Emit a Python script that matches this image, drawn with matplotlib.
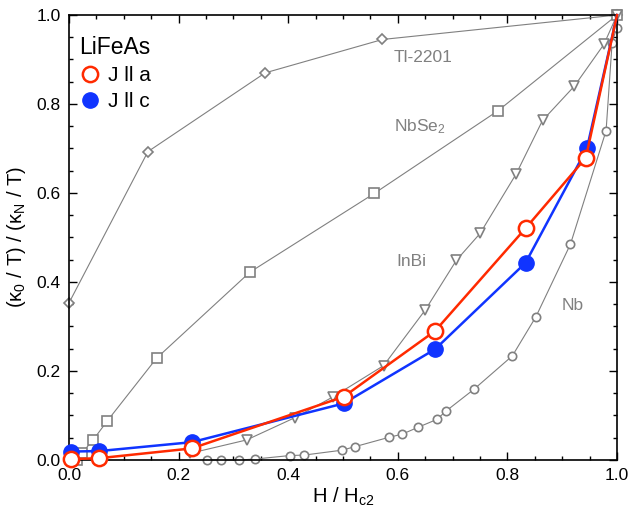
import numpy as np
import matplotlib
matplotlib.use('Agg')
import matplotlib.pyplot as plt
from matplotlib.ticker import MultipleLocator

plt.rcParams['font.family'] = ['Liberation Sans', 'DejaVu Sans']
plt.rcParams['mathtext.fontset'] = 'custom'
plt.rcParams['mathtext.rm'] = 'Liberation Sans'
plt.rcParams['mathtext.it'] = 'Liberation Sans:italic'

# reference superconductors (grey)
tl_x = [0.0, 0.144, 0.358, 0.572, 1.0]
tl_y = [0.353, 0.693, 0.870, 0.945, 1.0]

nbse2_x = [0.015, 0.023, 0.044, 0.070, 0.160, 0.330, 0.557, 0.783, 1.0]
nbse2_y = [0.0, 0.015, 0.045, 0.088, 0.229, 0.422, 0.599, 0.785, 1.0]

inbi_x = [0.221, 0.324, 0.412, 0.482, 0.574, 0.650, 0.707, 0.750, 0.816, 0.864, 0.922, 0.976, 1.0]
inbi_y = [0.015, 0.045, 0.095, 0.142, 0.212, 0.337, 0.449, 0.509, 0.643, 0.763, 0.840, 0.934, 1.0]

nb_x = [0.251, 0.277, 0.311, 0.339, 0.403, 0.429, 0.498, 0.522, 0.584, 0.608, 0.636, 0.671,
        0.688, 0.739, 0.809, 0.852, 0.915, 0.980, 0.991, 0.999]
nb_y = [0.0, 0.0, 0.0, 0.002, 0.010, 0.011, 0.022, 0.030, 0.051, 0.058, 0.073, 0.091,
        0.110, 0.159, 0.234, 0.322, 0.485, 0.740, 0.938, 0.970]

# LiFeAs (last point is the normal state, drawn as line end only)
h_a = [0.004, 0.055, 0.224, 0.501, 0.668, 0.834, 0.943, 1.0]
k_a = [0.002, 0.004, 0.026, 0.142, 0.290, 0.522, 0.679, 1.0]
h_c = [0.004, 0.055, 0.224, 0.501, 0.668, 0.833, 0.945, 1.0]
k_c = [0.019, 0.020, 0.040, 0.127, 0.249, 0.443, 0.700, 1.0]

grey = '#808080'
red = '#ff2a00'
blue = '#1034ff'

fig = plt.figure(figsize=(6.29, 5.12), dpi=100)
ax = fig.add_axes([0.1097, 0.1016, 0.981 - 0.1097, 0.9707 - 0.1016])

kw = dict(color=grey, lw=0.8, mfc='white', mec=grey, mew=1.2, clip_on=False)
ax.plot(tl_x, tl_y, marker='D', ms=5, **kw)
ax.plot(nbse2_x, nbse2_y, marker='s', ms=7, **kw)
ax.plot(inbi_x, inbi_y, marker='v', ms=7.5, **kw)
ax.plot(nb_x, nb_y, marker='o', ms=6, **kw)

n = len(h_c) - 1
ax.plot(h_c, k_c, color=blue, lw=1.8, marker='o', ms=11, mfc=blue, mec=blue,
        markevery=list(range(n)), clip_on=False, zorder=5, label='J ll c')
ax.plot(h_a, k_a, color=red, lw=1.8, marker='o', ms=11, mfc='white', mec=red, mew=1.8,
        markevery=list(range(n)), clip_on=False, zorder=6, label='J ll a')

ax.text(0.593, 0.905, 'Tl-2201', color=grey, fontsize=12.5, va='center')
ax.text(0.593, 0.75, 'NbSe$_2$', color=grey, fontsize=12.5, va='center')
ax.text(0.598, 0.445, 'InBi', color=grey, fontsize=12.5, va='center')
ax.text(0.899, 0.347, 'Nb', color=grey, fontsize=12.5, va='center')

handles, labels = ax.get_legend_handles_labels()
leg = ax.legend(handles[::-1], labels[::-1], title='LiFeAs', loc='upper left',
                bbox_to_anchor=(-0.019, 1.0),
                frameon=False, fontsize=15, title_fontsize=16.5, handletextpad=0.35,
                handlelength=1.0, borderaxespad=0.6, labelspacing=0.35)
leg._legend_box.align = 'left'
for h in leg.legend_handles:
    h.set_linestyle('none')

ax.set_xlim(0, 1)
ax.set_ylim(0, 1)
ax.xaxis.set_major_locator(MultipleLocator(0.2))
ax.xaxis.set_minor_locator(MultipleLocator(0.05))
ax.yaxis.set_major_locator(MultipleLocator(0.2))
ax.yaxis.set_minor_locator(MultipleLocator(0.05))
ax.tick_params(which='both', direction='in', top=True, right=True, labelsize=12.5, pad=6)
ax.tick_params(which='major', length=6, width=1)
ax.tick_params(which='minor', length=3, width=1)
for s in ax.spines.values():
    s.set_linewidth(1.2)

ax.set_xlabel('H / H$_{\\mathregular{c2}}$', fontsize=14.5, labelpad=2)
ax.set_ylabel('($\\mathregular{\\kappa_0}$ / T) / ($\\mathregular{\\kappa_N}$ / T)', fontsize=14.5, labelpad=6)

fig.savefig('out.png', dpi=100)
